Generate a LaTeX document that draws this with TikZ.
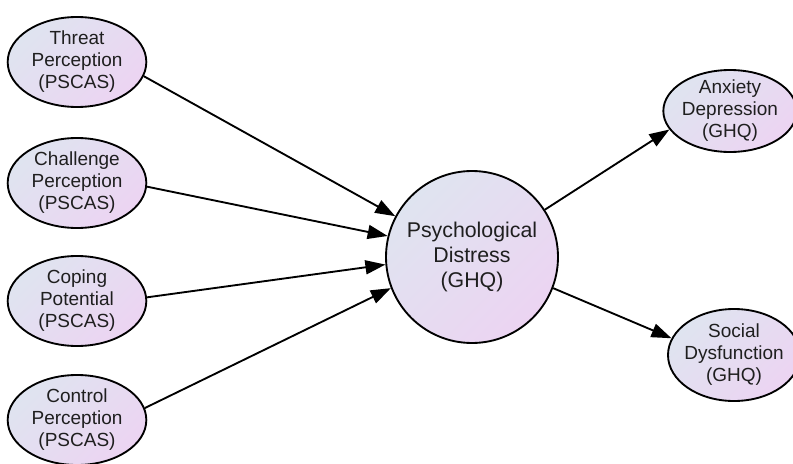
\documentclass[tikz,border=0pt]{standalone}
\usepackage{fontspec}
\setmainfont{Liberation Sans}
\usetikzlibrary{shapes.geometric,arrows.meta}

\definecolor{nodeblue}{RGB}{223,228,240}
\definecolor{nodepink}{RGB}{236,212,242}

\begin{document}
\begin{tikzpicture}[x=0.75pt,y=-0.75pt,
	shaded/.style={draw,line width=1.4pt,align=center,text=black!88,
		left color=nodeblue,right color=nodepink,shading angle=45},
	var/.style={shaded,ellipse,inner xsep=-3pt,inner ysep=-1.5pt,
		font=\fontsize{14.25}{16.5}\selectfont,minimum width=104pt,minimum height=67.5pt},
	arr/.style={line width=1.4pt,-{Triangle[length=15pt,width=10.5pt]}}]
	\useasboundingbox (0,0) rectangle (793,464);
	% predictors
	\node[var] (threat) at (77,62) {Threat\\Perception\\(PSCAS)};
	\node[var] (challenge) at (77,183) {Challenge\\Perception\\(PSCAS)};
	\node[var] (coping) at (77,301) {Coping\\Potential\\(PSCAS)};
	\node[var] (control) at (77,420) {Control\\Perception\\(PSCAS)};
	% central factor
	\node[shaded,circle,minimum size=129pt,inner sep=0pt,
		font=\fontsize{16}{18.75}\selectfont] (distress) at (472,257) {Psychological\\Distress\\(GHQ)};
	% outcomes
	\node[var,minimum width=100pt,minimum height=61.5pt] (anxiety) at (730,111) {Anxiety\\Depression\\(GHQ)};
	\node[var,minimum width=99pt,minimum height=69pt] (social) at (734,355) {Social\\Dysfunction\\(GHQ)};
	\draw[arr] (threat.-12) -- (distress.152);
	\draw[arr] (challenge.-3) -- (distress.166);
	\draw[arr] (coping.3) -- (distress.-175);
	\draw[arr] (control.10) -- (distress.-159);
	\draw[arr] (distress.33) -- (anxiety.-163);
	\draw[arr] (distress.-21) -- (social.165);
\end{tikzpicture}
\end{document}
